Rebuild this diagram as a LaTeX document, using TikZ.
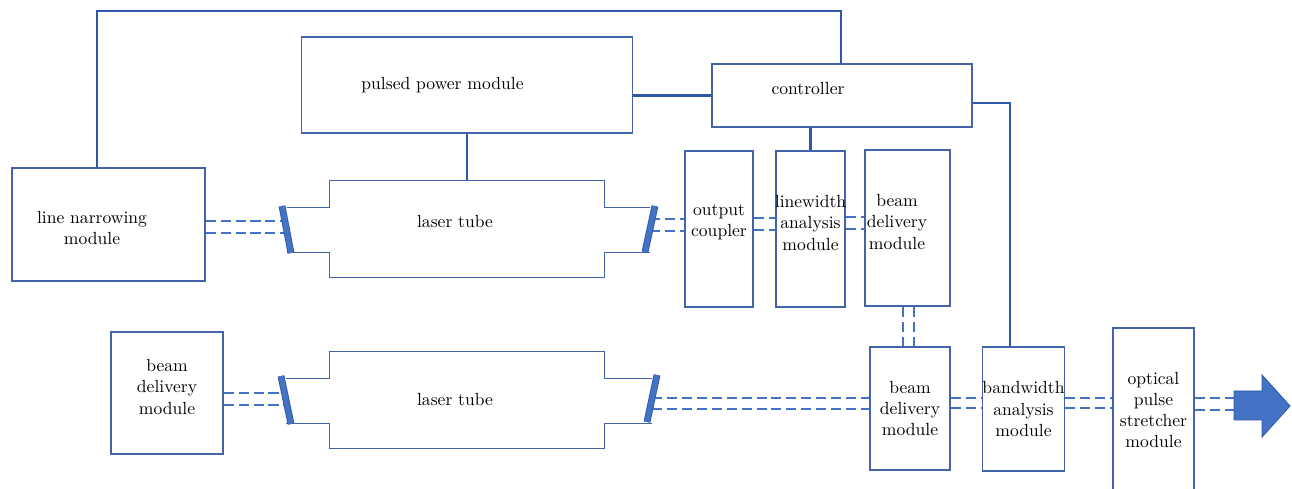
\documentclass[tikz,border=0pt]{standalone}
\usetikzlibrary{calc}
\definecolor{boxblue}{RGB}{68,100,170}
\definecolor{wireblue}{RGB}{47,88,170}
\definecolor{beamblue}{RGB}{68,114,196}
\begin{document}
\begin{tikzpicture}[x=0.02cm, y=-0.02cm,
  box/.style={draw=boxblue, line width=0.8pt, inner sep=0pt, align=center},
  wire/.style={draw=wireblue, line width=1.2pt},
  tubeline/.style={draw=boxblue, line width=0.9pt},
  beam/.style={draw=beamblue, line width=1.1pt, dash pattern=on 5.7pt off 2.8pt},
  mirror/.style={draw=wireblue, line width=0.5pt, double=beamblue, double distance=2.9pt}]
\useasboundingbox (0,0) rectangle (1292,489);

% Modules
\node[box, minimum width=6.62cm, minimum height=1.92cm, label={[xshift=-0.49cm]center:pulsed power module}] (ppm) at (467,85) {};
\node[box, minimum width=5.2cm, minimum height=1.26cm, label={[xshift=-0.68cm, yshift=0.13cm]center:controller}] (ctrl) at (842,95.5) {};
\node[box, minimum width=3.86cm, minimum height=2.26cm, label={[align=center, xshift=-0.33cm, yshift=-0.07cm]center:line narrowing\\module}] (lnm) at (108.5,224.5) {};
\node[box, minimum width=1.36cm, minimum height=3.12cm, label={[align=center, yshift=0.14cm]center:output\\coupler}] (oc) at (719,229) {};
\node[box, minimum width=1.38cm, minimum height=3.12cm, label={[align=center, yshift=0.12cm]center:linewidth\\analysis\\module}] (lwa) at (810.5,229) {};
\node[box, minimum width=1.7cm, minimum height=3.12cm, label={[align=center, xshift=-0.21cm, yshift=0.12cm]center:beam\\delivery\\module}] (bdm1) at (907.5,228) {};
\node[box, minimum width=2.24cm, minimum height=2.44cm, label={[align=center, yshift=0.12cm]center:beam\\delivery\\module}] (bdm0) at (167,393) {};
\node[box, minimum width=1.6cm, minimum height=2.46cm] (bdm2) at (910,408.5) {beam\\delivery\\module};
\node[box, minimum width=1.62cm, minimum height=2.48cm] (bwa) at (1023.5,409) {bandwidth\\analysis\\module};
\node[box, minimum width=1.62cm, minimum height=3.28cm] (ops) at (1153.5,410) {optical\\pulse\\stretcher\\module};

% Laser tubes
\node[inner sep=0pt, minimum width=5.48cm, minimum height=1.92cm, label={[xshift=-0.24cm, yshift=0.14cm]center:laser tube}] (t1) at (467,229) {};
\node[inner sep=0pt, minimum width=5.48cm, minimum height=1.92cm, label={[xshift=-0.24cm]center:laser tube}] (t2) at (467,400) {};

% Mirror positions
\foreach \n/\xa/\ya/\xb/\yb in {m1/282/206/291/253, m2/655/206/645/252, m3/281/376/291/424, m4/657/375/647/422}
  \path (\xa,\ya) coordinate (\n a) -- (\xb,\yb) coordinate (\n b) coordinate[midway] (\n);

\foreach \tb/\ml/\mr in {t1/m1/m2, t2/m3/m4} {
  \coordinate (\tb tl) at ($(\tb.north west)+(0,27)$);
  \coordinate (\tb tr) at ($(\tb.north east)+(0,27)$);
  \coordinate (\tb bl) at ($(\tb.south west)+(0,-25)$);
  \coordinate (\tb br) at ($(\tb.south east)+(0,-25)$);
  \draw[tubeline] (\ml |- \tb tl) -- (\tb tl) -- (\tb.north west) -- (\tb.north east) -- (\tb tr) -- (\mr |- \tb tr);
  \draw[tubeline] (\ml |- \tb bl) -- (\tb bl) -- (\tb.south west) -- (\tb.south east) -- (\tb br) -- (\mr |- \tb br);
}

% Control wiring
\coordinate (loopl) at (97,11);
\coordinate (loopr) at (841,11);
\coordinate (bend) at (1010,103);
\draw[wire] (ppm.south) -- (ppm.south |- t1.north);
\draw[wire] (ctrl.west) -- (ctrl.west -| ppm.east);
\draw[wire] (lwa.north) -- (lwa.north |- ctrl.south);
\draw[wire] (lnm.north -| loopl) -- (loopl) -- (loopr) -- (ctrl.north -| loopr);
\draw[wire] (ctrl.east |- bend) -- (bend) -- (bwa.north -| bend);

% Beam paths
\foreach \y in {221,233} \draw[beam] (lnm.east |- 0,\y) -- (m1 |- 0,\y);
\foreach \y in {219,231} \draw[beam] (m2 |- 0,\y) -- (oc.west |- 0,\y);
\foreach \y in {218,230} \draw[beam] (oc.east |- 0,\y) -- (lwa.west |- 0,\y);
\foreach \y in {217,229} \draw[beam] (lwa.east |- 0,\y) -- (bdm1.west |- 0,\y);
\foreach \x in {903,914} \draw[beam] (bdm1.south -| \x,0) -- (bdm2.north -| \x,0);
\foreach \y in {393,405} \draw[beam] (bdm0.east |- 0,\y) -- (m3 |- 0,\y);
\foreach \y in {398,409} \draw[beam] (m4 |- 0,\y) -- (bdm2.west |- 0,\y);
\foreach \y in {398,408} \draw[beam] (bdm2.east |- 0,\y) -- (bwa.west |- 0,\y);
\foreach \y in {398,408} \draw[beam] (bwa.east |- 0,\y) -- (ops.west |- 0,\y);

% Output arrow
\coordinate (out) at (1234,406);
\foreach \y in {398,410} \draw[beam] (ops.east |- 0,\y) -- (out |- 0,\y);
\draw[draw=wireblue, fill=beamblue, line width=0.5pt] (1234,391) -- (1262,391) -- (1262,375) -- (1290,406) -- (1262,437) -- (1262,420) -- (1234,420) -- cycle;

% Mirrors
\foreach \n in {m1,m2,m3,m4} \draw[mirror] (\n a) -- (\n b);
\end{tikzpicture}
\end{document}
